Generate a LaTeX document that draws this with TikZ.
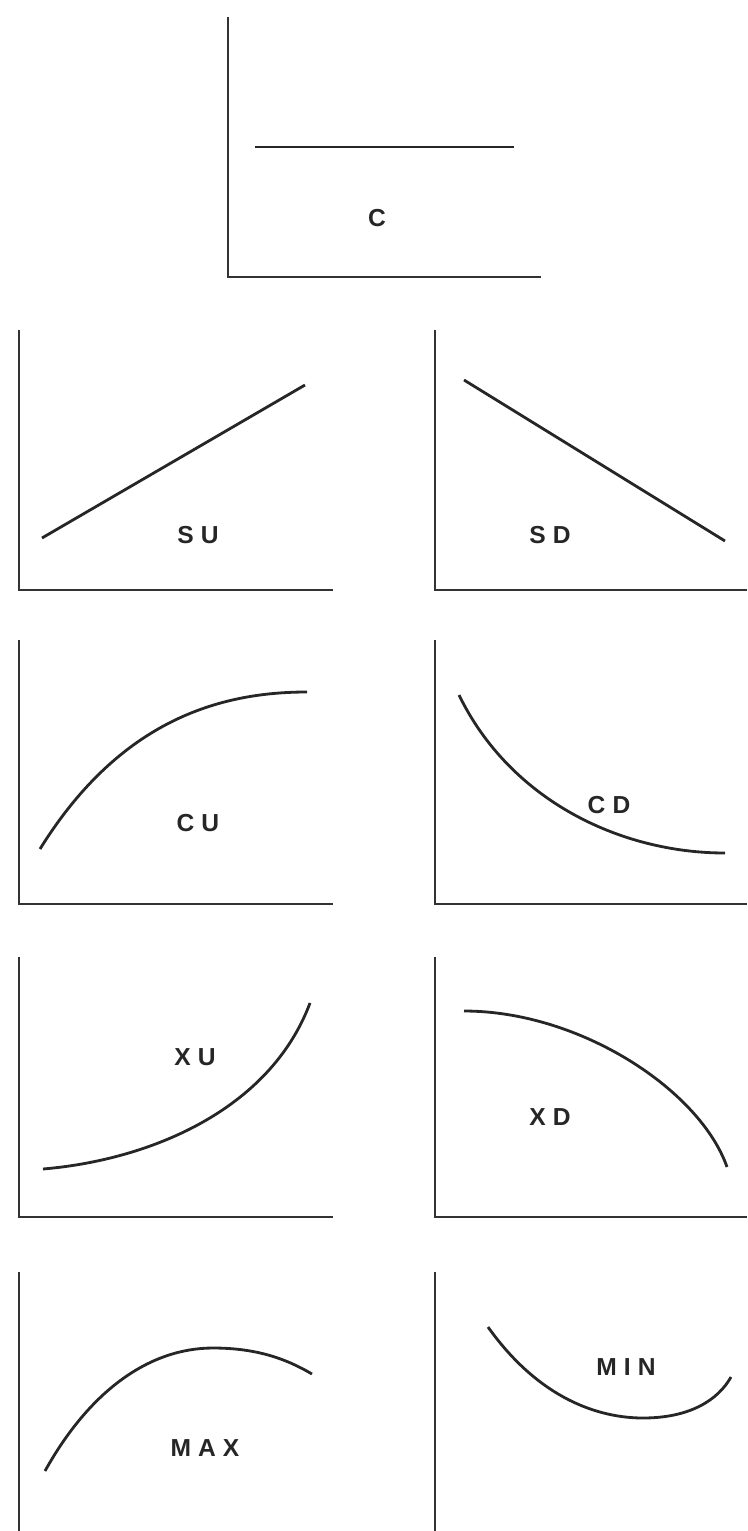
\documentclass[tikz,border=0pt]{standalone}
\usepackage{fontspec}
\setmainfont{Liberation Sans}
\newcommand{\gp}{\hspace{4pt}}

\begin{document}
\begin{tikzpicture}[x=0.02cm, y=-0.02cm,
  axis/.style={line width=1.3pt, draw=black!80},
  curve/.style={line width=1.6pt, draw=black!85},
  lbl/.style={font=\fontsize{14}{14}\selectfont\bfseries, text=black!85, inner sep=0pt}
]
\useasboundingbox (0,0) rectangle (747,1531);

% Top panel (constant)
\draw[axis] (228,17) -- (228,277) -- (541,277);
\draw[curve] (255,147) -- (514,147);
\node[lbl] (c) at (377,218) {C};

% Axes of the two columns, row by row (top/bottom)
\foreach \t/\b in {330/590, 640/904, 957/1217, 1272/1535}{
  \draw[axis] (19,\t) -- (19,\b) -- (333,\b);
  \draw[axis] (435,\t) -- (435,\b) -- (747,\b);
}

% Row 1: straight lines
\draw[curve] (42,538) -- (305,385);
\node[lbl] (su) at (198,535) {S\gp U};
\draw[curve] (464,380) -- (725,541);
\node[lbl] (sd) at (550,535) {S\gp D};

% Row 2: concave curves
\draw[curve] (40,849) .. controls (120,720) and (220,692) .. (307,692);
\node[lbl] (cu) at (198,823) {C\gp U};
\draw[curve] (459,695) .. controls (510,800) and (620,853) .. (725,853);
\node[lbl] (cd) at (609,805) {C\gp D};

% Row 3: convex curves
\draw[curve] (43,1169) .. controls (150,1160) and (270,1110) .. (310,1003);
\node[lbl] (xu) at (195,1057) {X\gp U};
\draw[curve] (464,1011) .. controls (580,1011) and (700,1090) .. (727,1167);
\node[lbl] (xd) at (550,1117) {X\gp D};

% Row 4: maximum and minimum
\draw[curve] (45,1471) .. controls (90,1390) and (150,1348) .. (213,1348)
  .. controls (255,1348) and (285,1358) .. (312,1374);
\node[lbl] (max) at (205,1448) {M\gp A\gp X};
\draw[curve] (488,1327) .. controls (540,1400) and (600,1418) .. (643,1418)
  .. controls (690,1418) and (718,1400) .. (731,1377);
\node[lbl] (min) at (626,1367) {M\gp I\gp N};

\end{tikzpicture}
\end{document}
